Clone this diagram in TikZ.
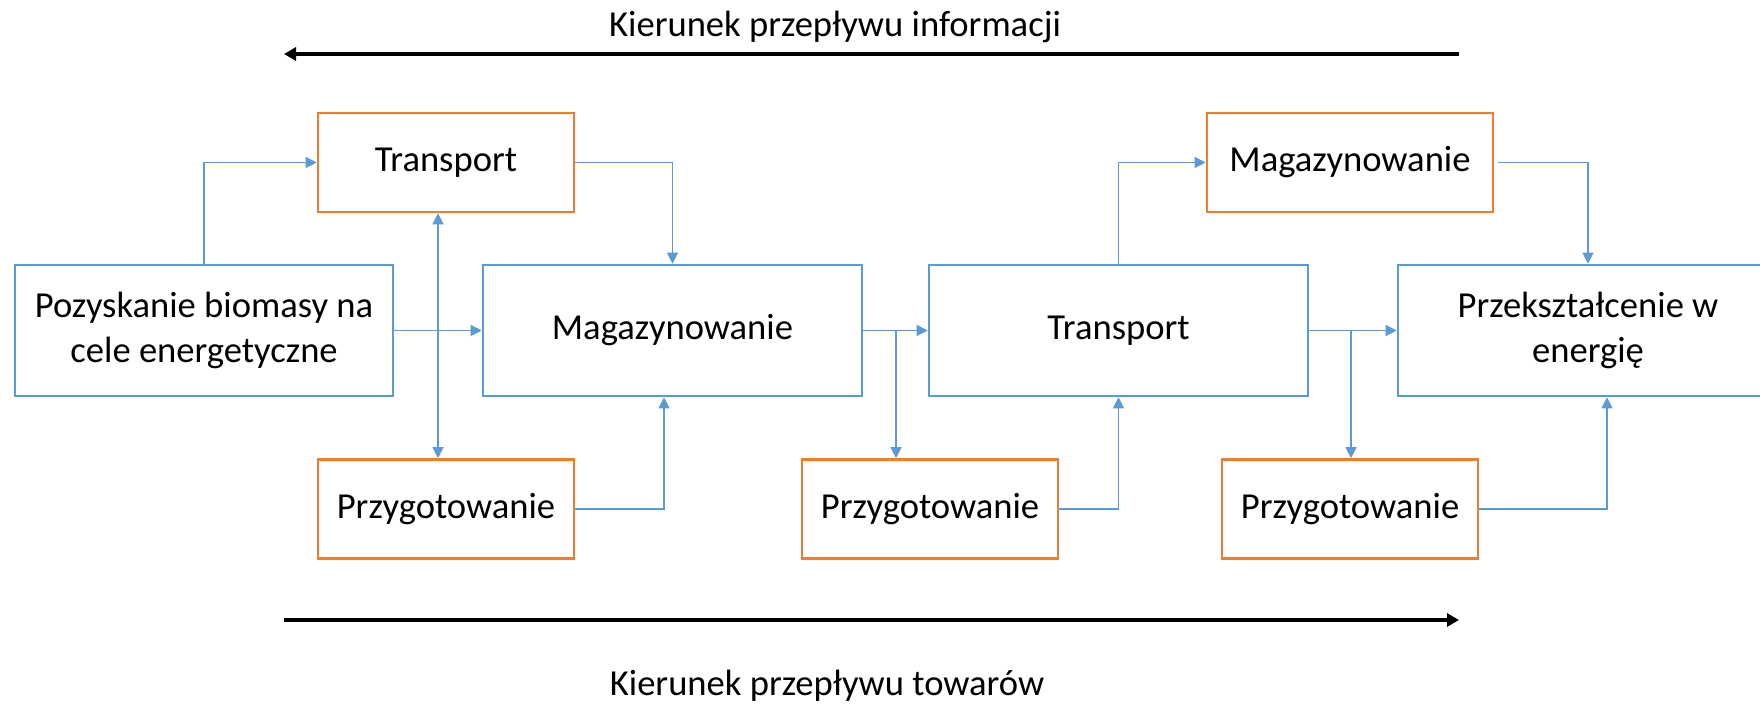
\documentclass[tikz,border=0pt]{standalone}
\usepackage{fontspec}
\setmainfont{Carlito}
\usetikzlibrary{arrows.meta}
\definecolor{boxblue}{HTML}{5B9BD5}
\definecolor{boxorange}{HTML}{ED7D31}

\begin{document}
\begin{tikzpicture}[x=0.5pt,y=-0.5pt,font=\fontsize{18.3}{22.5}\selectfont,
		mainbox/.style={draw=boxblue,line width=1.3pt,minimum height=65.5pt,inner sep=0pt,align=center},
		sidebox/.style={draw=boxorange,line width=1.3pt,minimum height=49.5pt,minimum width=128pt,inner sep=0pt},
		link/.style={draw=boxblue,line width=0.6pt,>={Triangle[length=5.5pt,width=5.5pt]},->},
		flow/.style={line width=1.6pt,>={Triangle[length=6pt,width=6.5pt]},->}]
		\useasboundingbox (0,0) rectangle (1760,705);
		% main chain
		\node[mainbox,minimum width=189pt] (poz) at (204,330.5) {Pozyskanie biomasy na\\cele energetyczne};
		\node[mainbox,minimum width=189.5pt] (mag1) at (672.5,330.5) {Magazynowanie};
		\node[mainbox,minimum width=189.5pt] (tra2) at (1118.5,330.5) {Transport};
		\node[mainbox,minimum width=190pt] (prz) at (1588,330.5) {Przekształcenie w\\energię};
		% side steps
		\node[sidebox] (tra1) at (446,162.5) {Transport};
		\node[sidebox,minimum width=143pt] (mag2) at (1350,162.5) {Magazynowanie};
		\node[sidebox] (pre1) at (446,509) {Przygotowanie};
		\node[sidebox] (pre2) at (930,509) {Przygotowanie};
		\node[sidebox] (pre3) at (1350,509) {Przygotowanie};
		
		\coordinate (b1) at (896,330.5);
		\coordinate (b2) at (1351,330.5);
		\draw[link] (poz.north) |- (tra1.west);
		\draw[link] (tra1.east) -| (mag1.north);
		\draw[link] (poz.east) -- (mag1.west);
		\draw[link,<->] ([xshift=-4pt]tra1.south) -- ([xshift=-4pt]pre1.north);
		\draw[link] (pre1.east) -| ([xshift=-4.25pt]mag1.south);
		\draw[link] (mag1.east) -- (tra2.west);
		\draw[link] (b1) -- (b1 |- pre2.north);
		\draw[link] (pre2.east) -| (tra2.south);
		\draw[link] (tra2.north) |- (mag2.west);
		\draw[link] ([xshift=2pt]mag2.east) -| (prz.north);
		\draw[link] (tra2.east) -- (prz.west);
		\draw[link] (b2) -- (b2 |- pre3.north);
		\draw[link] (pre3.east) -| ([xshift=9.5pt]prz.south);
		
		% flow directions
		\coordinate (infoR) at (1459,54);
		\coordinate (infoL) at (284,54);
		\coordinate (towL) at (284,620);
		\coordinate (towR) at (1459,620);
		\node[anchor=base] (infolab) at (835,37) {Kierunek przepływu informacji};
		\node[anchor=base] (towlab) at (827,695) {Kierunek przepływu towarów};
		\draw[flow] (infoR) -- (infoL);
		\draw[flow] (towL) -- (towR);
	\end{tikzpicture}
\end{document}
